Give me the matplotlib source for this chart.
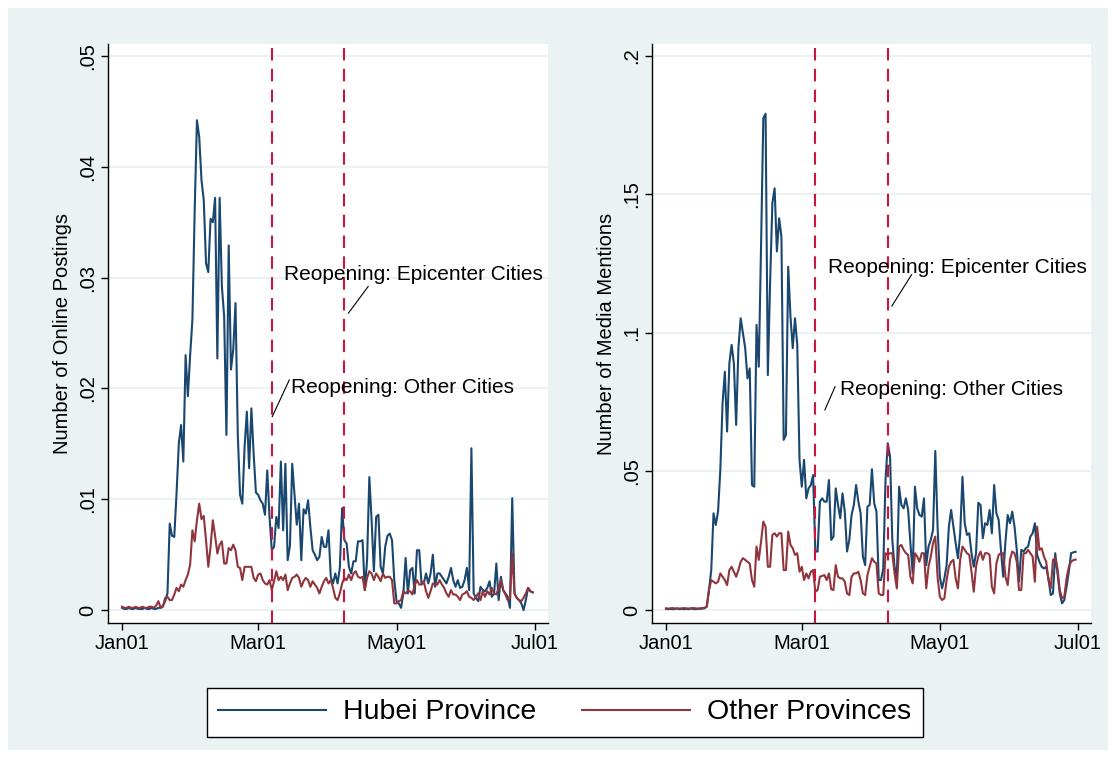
import matplotlib
matplotlib.use("Agg")
import matplotlib.pyplot as plt
from matplotlib.patches import Rectangle
import numpy as np
import pandas as pd

plt.rcParams["font.family"] = ["Liberation Sans", "DejaVu Sans"]

NAVY = "#1A476F"; MAROON = "#90353B"; CRANBERRY = "#C8163F"; BG = "#EAF2F3"

START = pd.Timestamp("2020-01-01")
reopen_dates = ["2020-03-07", "2020-04-08"]
tick_dates = ["2020-01-01", "2020-03-01", "2020-05-01", "2020-07-01"]
tick_labels = ["Jan01", "Mar01", "May01", "Jul01"]

# daily shares, Jan 1 .. Jun 30
postings_hubei = [
    0.0002, 0.0001, 0.0001, 0.0002, 0.0001, 0.0001, 0.0002, 0.0001, 0.0001, 0.0001,
    0.0002, 0.0001, 0.0001, 0.0002, 0.0001, 0.0001, 0.0002, 0.0002, 0.0004, 0.0008,
    0.0015, 0.0078, 0.0067, 0.0066, 0.0105, 0.0150, 0.0167, 0.0134, 0.0230, 0.0193,
    0.0230, 0.0262, 0.0360, 0.0442, 0.0427, 0.0388, 0.0370, 0.0313, 0.0305, 0.0353,
    0.0350, 0.0372, 0.0227, 0.0372, 0.0292, 0.0265, 0.0158, 0.0329, 0.0217, 0.0235,
    0.0277, 0.0159, 0.0104, 0.0096, 0.0147, 0.0179, 0.0128, 0.0182, 0.0141, 0.0106,
    0.0104, 0.0099, 0.0096, 0.0086, 0.0126, 0.0084, 0.0054, 0.0057, 0.0084, 0.0074,
    0.0134, 0.0072, 0.0132, 0.0045, 0.0058, 0.0132, 0.0104, 0.0077, 0.0096, 0.0045,
    0.0091, 0.0087, 0.0099, 0.0075, 0.0054, 0.0050, 0.0045, 0.0048, 0.0066, 0.0057,
    0.0057, 0.0072, 0.0030, 0.0024, 0.0033, 0.0024, 0.0038, 0.0092, 0.0063, 0.0060,
    0.0039, 0.0033, 0.0044, 0.0044, 0.0062, 0.0062, 0.0063, 0.0018, 0.0045, 0.0120,
    0.0081, 0.0035, 0.0084, 0.0086, 0.0039, 0.0033, 0.0057, 0.0067, 0.0069, 0.0063,
    0.0027, 0.0008, 0.0006, 0.0002, 0.0015, 0.0047, 0.0015, 0.0036, 0.0038, 0.0015,
    0.0054, 0.0054, 0.0024, 0.0024, 0.0033, 0.0024, 0.0033, 0.0050, 0.0021, 0.0033,
    0.0033, 0.0030, 0.0027, 0.0024, 0.0030, 0.0038, 0.0027, 0.0021, 0.0027, 0.0020,
    0.0021, 0.0027, 0.0038, 0.0018, 0.0146, 0.0015, 0.0011, 0.0008, 0.0021, 0.0018,
    0.0017, 0.0020, 0.0026, 0.0012, 0.0015, 0.0042, 0.0009, 0.0030, 0.0018, 0.0015,
    0.0012, 0.0002, 0.0101, 0.0015, 0.0011, 0.0009, 0.0006, 0.0000, 0.0009, 0.0020,
    0.0017, 0.0016,
]
postings_other = [
    0.0003, 0.0002, 0.0002, 0.0003, 0.0002, 0.0002, 0.0003, 0.0002, 0.0002, 0.0003,
    0.0002, 0.0002, 0.0003, 0.0003, 0.0002, 0.0004, 0.0008, 0.0002, 0.0003, 0.0011,
    0.0012, 0.0009, 0.0009, 0.0014, 0.0020, 0.0017, 0.0023, 0.0021, 0.0027, 0.0032,
    0.0041, 0.0072, 0.0062, 0.0081, 0.0096, 0.0082, 0.0085, 0.0063, 0.0039, 0.0057,
    0.0081, 0.0067, 0.0051, 0.0059, 0.0062, 0.0042, 0.0042, 0.0056, 0.0054, 0.0059,
    0.0054, 0.0039, 0.0038, 0.0027, 0.0039, 0.0039, 0.0039, 0.0039, 0.0029, 0.0026,
    0.0032, 0.0033, 0.0027, 0.0024, 0.0023, 0.0027, 0.0018, 0.0026, 0.0035, 0.0027,
    0.0030, 0.0027, 0.0032, 0.0018, 0.0024, 0.0029, 0.0030, 0.0032, 0.0029, 0.0021,
    0.0026, 0.0029, 0.0027, 0.0021, 0.0026, 0.0023, 0.0020, 0.0015, 0.0021, 0.0026,
    0.0029, 0.0024, 0.0027, 0.0020, 0.0011, 0.0009, 0.0015, 0.0024, 0.0029, 0.0027,
    0.0032, 0.0027, 0.0033, 0.0035, 0.0030, 0.0029, 0.0030, 0.0018, 0.0029, 0.0035,
    0.0033, 0.0027, 0.0033, 0.0030, 0.0026, 0.0033, 0.0029, 0.0030, 0.0030, 0.0027,
    0.0006, 0.0006, 0.0008, 0.0009, 0.0017, 0.0015, 0.0017, 0.0017, 0.0014, 0.0023,
    0.0027, 0.0023, 0.0023, 0.0026, 0.0017, 0.0011, 0.0017, 0.0024, 0.0023, 0.0023,
    0.0027, 0.0023, 0.0020, 0.0015, 0.0012, 0.0018, 0.0014, 0.0014, 0.0012, 0.0009,
    0.0014, 0.0015, 0.0017, 0.0012, 0.0011, 0.0009, 0.0012, 0.0015, 0.0009, 0.0017,
    0.0012, 0.0017, 0.0014, 0.0020, 0.0015, 0.0014, 0.0020, 0.0027, 0.0018, 0.0014,
    0.0009, 0.0011, 0.0051, 0.0015, 0.0011, 0.0009, 0.0008, 0.0011, 0.0015, 0.0020,
    0.0017, 0.0016,
]
media_hubei = [
    0.0004, 0.0003, 0.0004, 0.0003, 0.0004, 0.0005, 0.0003, 0.0004, 0.0003, 0.0004,
    0.0003, 0.0005, 0.0004, 0.0003, 0.0004, 0.0004, 0.0005, 0.0006, 0.0012, 0.0072,
    0.0144, 0.0349, 0.0307, 0.0355, 0.0505, 0.0746, 0.0860, 0.0644, 0.0890, 0.0957,
    0.0890, 0.0668, 0.0945, 0.1053, 0.0999, 0.0945, 0.0836, 0.0872, 0.0451, 0.0445,
    0.1029, 0.0878, 0.1312, 0.1775, 0.1791, 0.0848, 0.1180, 0.1468, 0.1522, 0.1294,
    0.1414, 0.1348, 0.0614, 0.0632, 0.1239, 0.1059, 0.0945, 0.1053, 0.0957, 0.0542,
    0.0445, 0.0542, 0.0403, 0.0439, 0.0451, 0.0487, 0.0211, 0.0211, 0.0391, 0.0403,
    0.0391, 0.0391, 0.0469, 0.0253, 0.0265, 0.0439, 0.0379, 0.0331, 0.0421, 0.0355,
    0.0211, 0.0253, 0.0343, 0.0379, 0.0451, 0.0391, 0.0349, 0.0193, 0.0162, 0.0373,
    0.0379, 0.0508, 0.0385, 0.0355, 0.0108, 0.0108, 0.0150, 0.0469, 0.0602, 0.0554,
    0.0253, 0.0156, 0.0120, 0.0445, 0.0379, 0.0367, 0.0403, 0.0361, 0.0241, 0.0132,
    0.0445, 0.0367, 0.0343, 0.0337, 0.0403, 0.0162, 0.0229, 0.0253, 0.0289, 0.0574,
    0.0301, 0.0120, 0.0078, 0.0114, 0.0162, 0.0301, 0.0361, 0.0301, 0.0241, 0.0187,
    0.0277, 0.0481, 0.0313, 0.0271, 0.0277, 0.0205, 0.0156, 0.0205, 0.0387, 0.0379,
    0.0259, 0.0313, 0.0307, 0.0361, 0.0277, 0.0451, 0.0349, 0.0325, 0.0217, 0.0120,
    0.0247, 0.0343, 0.0313, 0.0355, 0.0301, 0.0217, 0.0102, 0.0217, 0.0211, 0.0223,
    0.0229, 0.0265, 0.0277, 0.0313, 0.0199, 0.0174, 0.0156, 0.0150, 0.0156, 0.0114,
    0.0054, 0.0060, 0.0205, 0.0132, 0.0060, 0.0024, 0.0036, 0.0084, 0.0138, 0.0205,
    0.0208, 0.0210,
]
media_other = [
    0.0006, 0.0005, 0.0006, 0.0007, 0.0005, 0.0006, 0.0005, 0.0006, 0.0007, 0.0006,
    0.0005, 0.0006, 0.0007, 0.0006, 0.0005, 0.0006, 0.0007, 0.0008, 0.0012, 0.0072,
    0.0108, 0.0102, 0.0096, 0.0102, 0.0132, 0.0120, 0.0108, 0.0090, 0.0144, 0.0156,
    0.0138, 0.0120, 0.0144, 0.0174, 0.0187, 0.0181, 0.0174, 0.0168, 0.0108, 0.0084,
    0.0229, 0.0181, 0.0247, 0.0319, 0.0301, 0.0156, 0.0156, 0.0271, 0.0277, 0.0265,
    0.0277, 0.0277, 0.0144, 0.0144, 0.0283, 0.0235, 0.0223, 0.0199, 0.0205, 0.0138,
    0.0156, 0.0108, 0.0132, 0.0114, 0.0138, 0.0144, 0.0066, 0.0072, 0.0120, 0.0123,
    0.0126, 0.0108, 0.0132, 0.0075, 0.0072, 0.0162, 0.0120, 0.0114, 0.0114, 0.0102,
    0.0060, 0.0054, 0.0120, 0.0132, 0.0132, 0.0138, 0.0108, 0.0060, 0.0054, 0.0126,
    0.0156, 0.0187, 0.0174, 0.0168, 0.0060, 0.0054, 0.0054, 0.0205, 0.0199, 0.0205,
    0.0205, 0.0132, 0.0078, 0.0229, 0.0235, 0.0217, 0.0205, 0.0199, 0.0120, 0.0096,
    0.0205, 0.0193, 0.0174, 0.0205, 0.0205, 0.0078, 0.0156, 0.0193, 0.0241, 0.0265,
    0.0120, 0.0048, 0.0036, 0.0042, 0.0108, 0.0156, 0.0174, 0.0181, 0.0114, 0.0078,
    0.0181, 0.0229, 0.0217, 0.0205, 0.0199, 0.0138, 0.0066, 0.0156, 0.0193, 0.0211,
    0.0181, 0.0205, 0.0205, 0.0199, 0.0084, 0.0060, 0.0168, 0.0199, 0.0205, 0.0205,
    0.0120, 0.0090, 0.0181, 0.0211, 0.0205, 0.0174, 0.0072, 0.0072, 0.0205, 0.0205,
    0.0217, 0.0205, 0.0193, 0.0102, 0.0301, 0.0217, 0.0223, 0.0193, 0.0174, 0.0108,
    0.0078, 0.0181, 0.0187, 0.0150, 0.0072, 0.0042, 0.0048, 0.0114, 0.0156, 0.0174,
    0.0180, 0.0182,
]

postings_yticks = [0, 0.01, 0.02, 0.03, 0.04, 0.05]
postings_ylabels = ["0", ".01", ".02", ".03", ".04", ".05"]
media_yticks = [0, 0.05, 0.1, 0.15, 0.2]
media_ylabels = ["0", ".05", ".1", ".15", ".2"]


def day_of(s):
    return (pd.Timestamp(s) - START).days


fig = plt.figure(figsize=(11.16, 7.57), dpi=100, facecolor="white")
fig.patches.append(Rectangle((8 / 1116, 7 / 757), 1100 / 1116, 742 / 757,
                             transform=fig.transFigure, facecolor=BG,
                             edgecolor="none", zorder=-10))

panels = [
    dict(rect=[0.0968, 0.1770, 0.3943, 0.7649], hubei=postings_hubei,
         other=postings_other, yticks=postings_yticks, ylabels=postings_ylabels,
         ylim=(-0.00117, 0.05108), ylabel="Number of Online Postings",
         epi=(0.0303, 0.0268, 0.0292), oth=(0.0201, 0.01745, 0.02076)),
    dict(rect=[0.5842, 0.1770, 0.3934, 0.7649], hubei=media_hubei,
         other=media_other, yticks=media_yticks, ylabels=media_ylabels,
         ylim=(-0.0047, 0.2043), ylabel="Number of Media Mentions",
         epi=(0.1237, 0.1097, 0.1210), oth=(0.0797, 0.0722, 0.0806)),
]

for p in panels:
    ax = fig.add_axes(p["rect"])
    ax.set_facecolor("white")
    ax.plot(np.arange(len(p["hubei"])), p["hubei"], color=NAVY, lw=1.5,
            label="Hubei Province", zorder=3)
    ax.plot(np.arange(len(p["other"])), p["other"], color=MAROON, lw=1.5,
            label="Other Provinces", zorder=3)
    for d in reopen_dates:
        ax.axvline(day_of(d), color=CRANBERRY, lw=1.5, ls=(0, (6, 4)), zorder=4)

    d1, d2 = day_of(reopen_dates[0]), day_of(reopen_dates[1])
    ty, ly0, ly1 = p["epi"]
    ax.text(d2 - 26.5, ty, "Reopening: Epicenter Cities", fontsize=15,
            va="center", ha="left", zorder=5)
    ax.plot([d2 + 1.8, d2 + 10.5], [ly0, ly1], color="black", lw=0.8, zorder=5)
    ty, ly0, ly1 = p["oth"]
    off = 0 if p is panels[0] else 4
    ax.text(d1 + 8.5 + off * 0.6, ty, "Reopening: Other Cities", fontsize=15,
            va="center", ha="left", zorder=5)
    ax.plot([d1 + 0.2 + off, d1 + 7.7 + off * 0.25], [ly0, ly1], color="black",
            lw=0.8, zorder=5)

    ax.set_xlim(-6.2, 187.8)
    ax.set_ylim(*p["ylim"])
    ax.set_xticks([day_of(t) for t in tick_dates])
    ax.set_xticklabels(tick_labels)
    ax.set_yticks(p["yticks"])
    ax.set_yticklabels(p["ylabels"], rotation=90, va="center")
    ax.tick_params(axis="both", direction="out", length=5, width=1,
                   labelsize=14.5, pad=3)
    ax.grid(axis="y", color=BG, lw=1.5)
    ax.set_axisbelow(True)
    for s in ["top", "right"]:
        ax.spines[s].set_visible(False)
    for s in ["left", "bottom"]:
        ax.spines[s].set_linewidth(1)
    ax.set_ylabel(p["ylabel"], fontsize=14.5, labelpad=4)

handles, labels = ax.get_legend_handles_labels()
leg = fig.legend(handles, labels, loc="center", bbox_to_anchor=(0.506, 0.0588),
                 ncol=2, fontsize=20.5, frameon=True, fancybox=False,
                 edgecolor="black", facecolor="white", framealpha=1,
                 handlelength=3.8, handletextpad=0.6, columnspacing=1.6,
                 borderpad=0.4)
leg.get_frame().set_linewidth(1)

fig.savefig("out.png", dpi=100, facecolor=fig.get_facecolor())
